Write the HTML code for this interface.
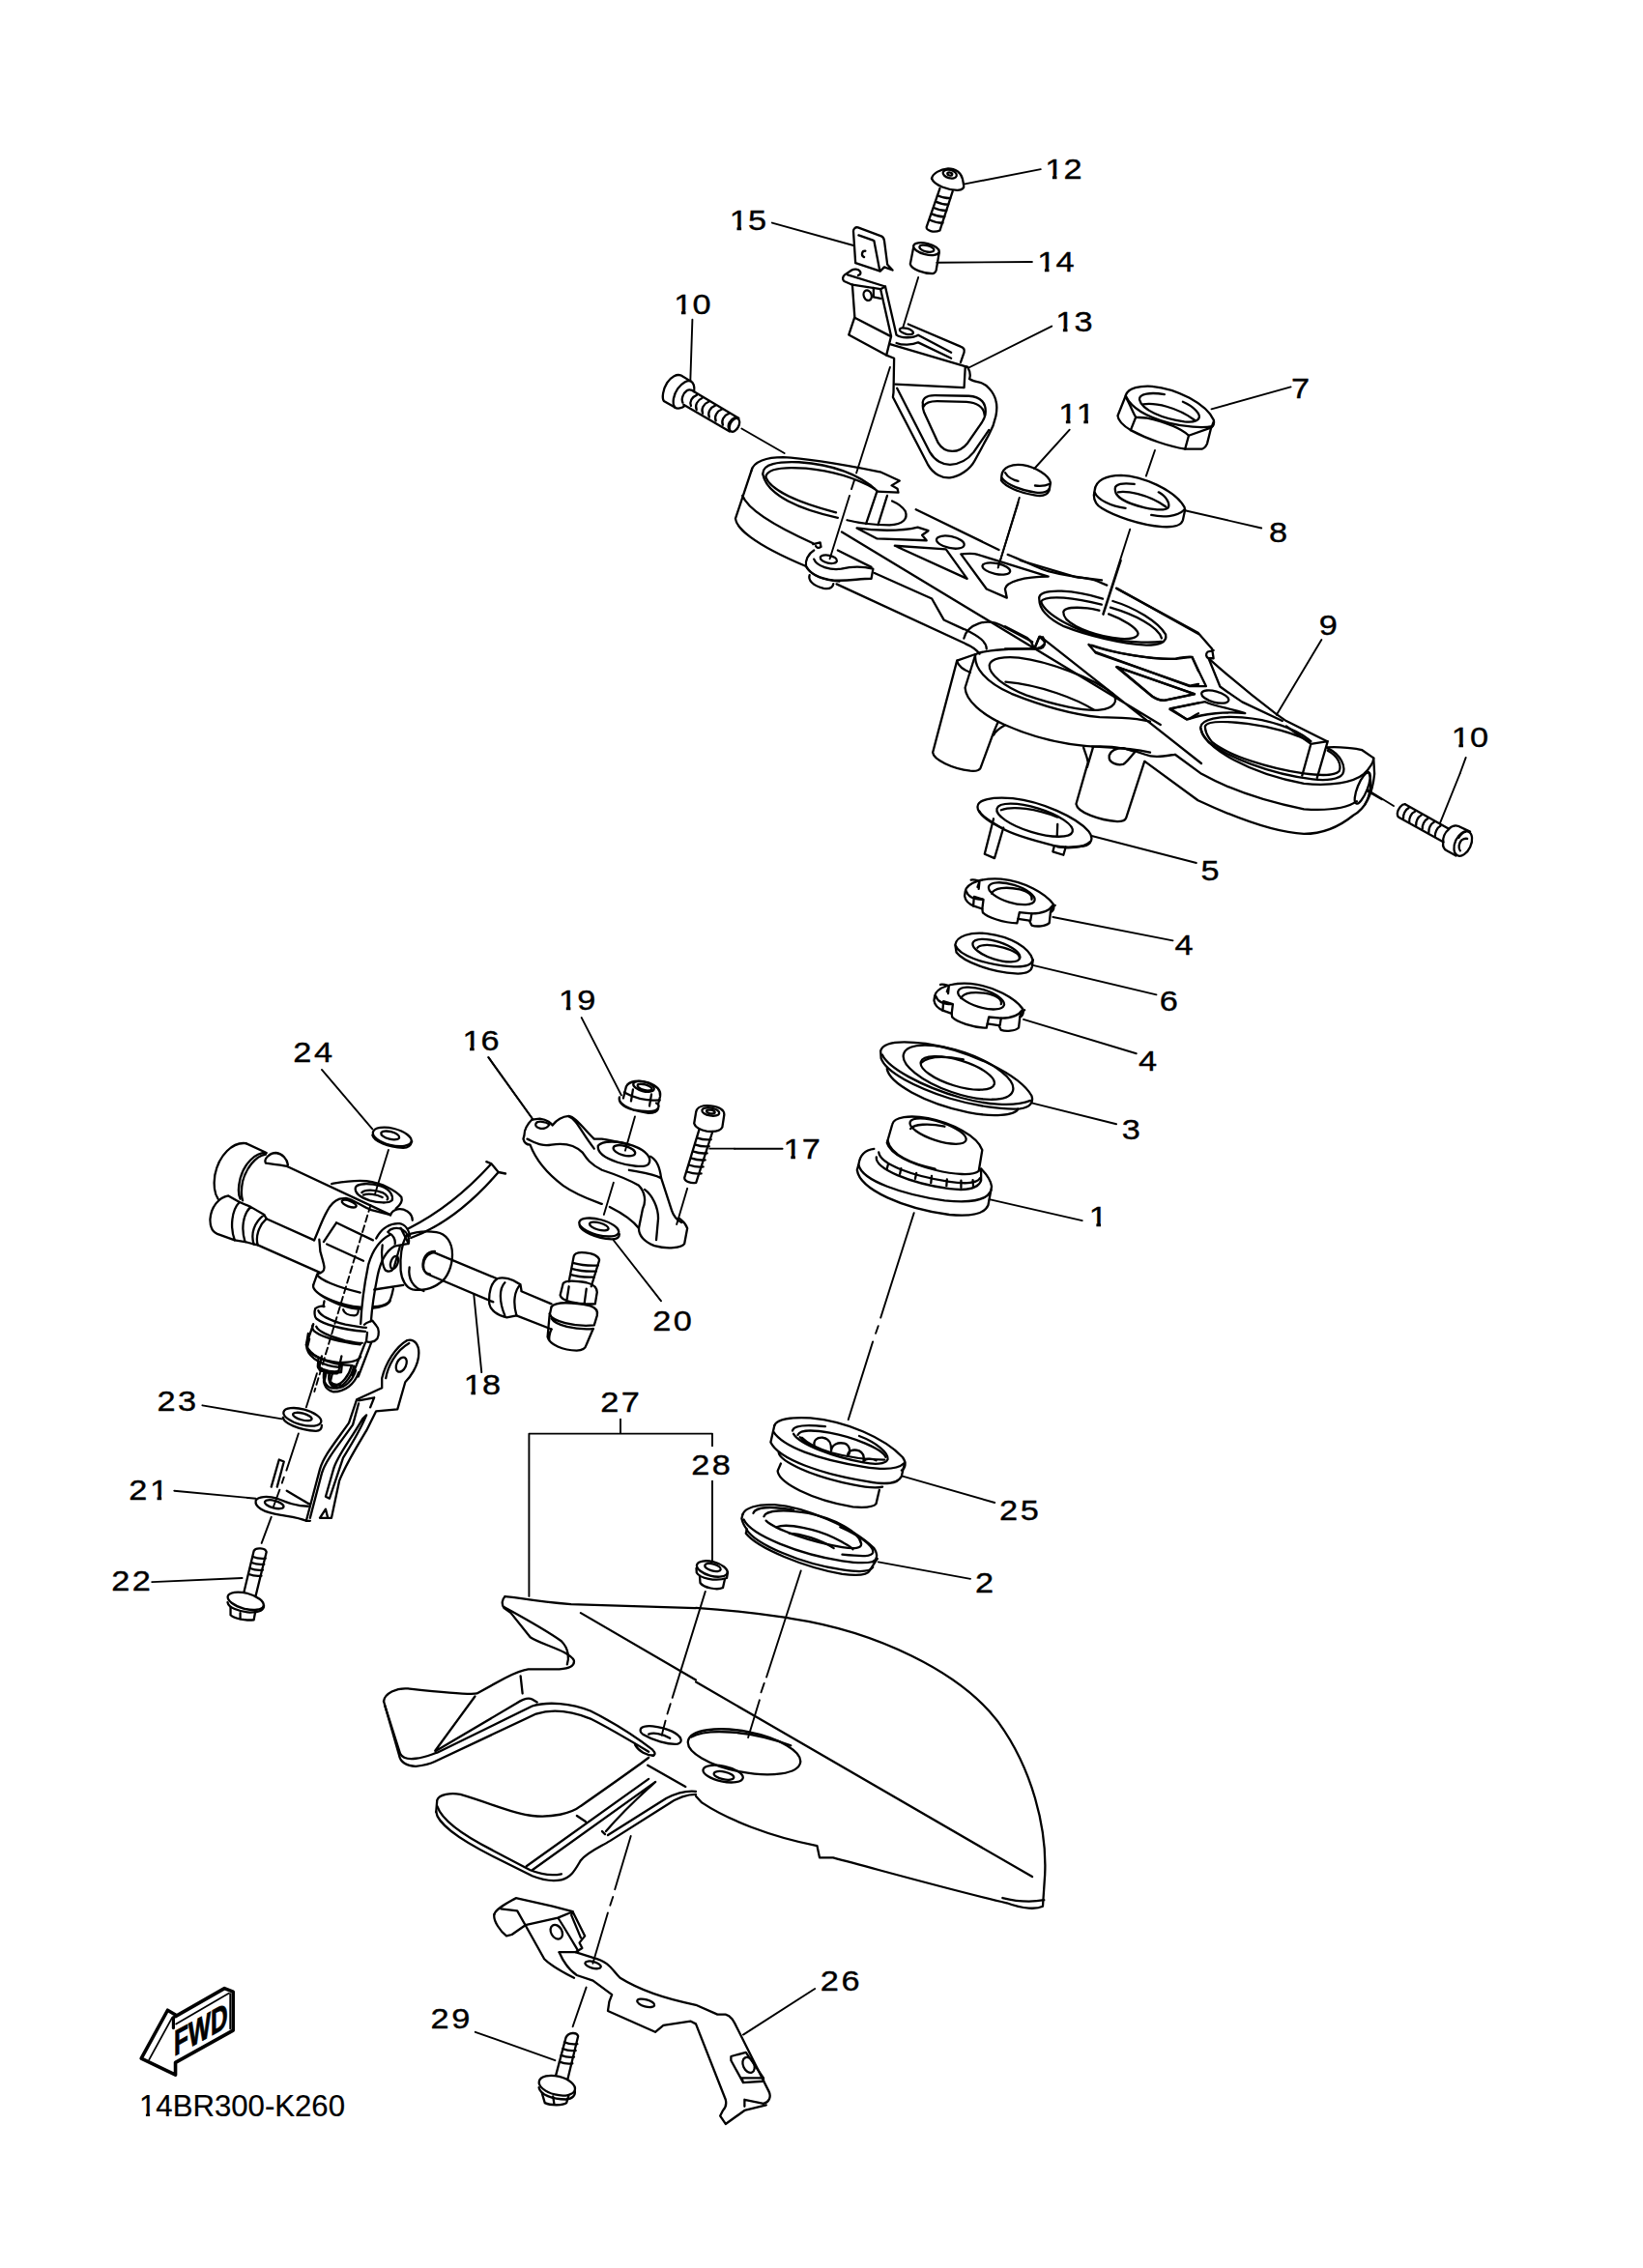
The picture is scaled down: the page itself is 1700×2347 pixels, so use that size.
<!DOCTYPE html>
<html><head><meta charset="utf-8">
<style>
html,body{margin:0;padding:0;background:#fff;}
body{width:1700px;height:2347px;overflow:hidden;}
svg{display:block;}
.d path,.d ellipse,.d line,.d polyline,.d polygon,.d circle{fill:none;stroke:#000;stroke-width:2.3;vector-effect:non-scaling-stroke;stroke-linecap:round;stroke-linejoin:round;}
.d .f{fill:#fff;}
.ld{stroke-width:1.9 !important;}
.dd{stroke-dasharray:38 7 4 7;}
text{font-family:"Liberation Sans",sans-serif;font-size:28.6px;fill:#000;stroke:#000;stroke-width:0.35px;}
</style></head><body>
<svg class="d" width="1700" height="2347" viewBox="0 0 1700 2347">
<text transform="translate(1081.2,185.2) scale(1.2,1)" letter-spacing="0.1">12</text>
<text transform="translate(1073.2,281.2) scale(1.2,1)" letter-spacing="0.1">14</text>
<text transform="translate(754.8,237.8) scale(1.2,1)" letter-spacing="0.1">15</text>
<text transform="translate(697.2,325.3) scale(1.2,1)" letter-spacing="0.1">10</text>
<text transform="translate(1092.2,342.8) scale(1.2,1)" letter-spacing="0.1">13</text>
<text transform="translate(1335.9,411.8) scale(1.2,1)" letter-spacing="2.1">7</text>
<text transform="translate(1095.2,437.8) scale(1.2,1)" letter-spacing="1.6">11</text>
<text transform="translate(1313.0,561.0) scale(1.2,1)" letter-spacing="2.1">8</text>
<text transform="translate(1364.8,656.8) scale(1.2,1)" letter-spacing="2.1">9</text>
<text transform="translate(1501.7,772.5) scale(1.2,1)" letter-spacing="0.1">10</text>
<text transform="translate(1242.4,910.9) scale(1.2,1)" letter-spacing="2.1">5</text>
<text transform="translate(1215.6,987.6) scale(1.2,1)" letter-spacing="2.1">4</text>
<text transform="translate(1199.8,1046.0) scale(1.2,1)" letter-spacing="2.1">6</text>
<text transform="translate(1177.9,1108.1) scale(1.2,1)" letter-spacing="2.1">4</text>
<text transform="translate(1160.8,1178.7) scale(1.2,1)" letter-spacing="2.1">3</text>
<text transform="translate(1126.7,1268.8) scale(1.2,1)" letter-spacing="2.1">1</text>
<text transform="translate(303.3,1098.8) scale(1.2,1)" letter-spacing="2.1">24</text>
<text transform="translate(478.4,1087.3) scale(1.2,1)" letter-spacing="0.1">16</text>
<text transform="translate(578.1,1045.1) scale(1.2,1)" letter-spacing="0.1">19</text>
<text transform="translate(479.7,1442.8) scale(1.2,1)" letter-spacing="0.1">18</text>
<text transform="translate(675.2,1376.8) scale(1.2,1)" letter-spacing="2.1">20</text>
<text transform="translate(162.4,1460.1) scale(1.2,1)" letter-spacing="2.1">23</text>
<text transform="translate(133.3,1551.5) scale(1.2,1)" letter-spacing="2.1">21</text>
<text transform="translate(115.2,1645.9) scale(1.2,1)" letter-spacing="2.1">22</text>
<text transform="translate(1034.1,1573.4) scale(1.2,1)" letter-spacing="2.1">25</text>
<text transform="translate(1008.9,1647.9) scale(1.2,1)" letter-spacing="2.1">2</text>
<text transform="translate(621.2,1460.8) scale(1.2,1)" letter-spacing="2.1">27</text>
<text transform="translate(715.2,1525.8) scale(1.2,1)" letter-spacing="2.1">28</text>
<text transform="translate(848.8,2060.2) scale(1.2,1)" letter-spacing="2.1">26</text>
<text transform="translate(445.6,2099.4) scale(1.2,1)" letter-spacing="2.1">29</text>
<text transform="translate(810.6,1198.6) scale(1.2,1)" letter-spacing="0.1">17</text>
<!--LABELS-->
<!-- F_A2: origin 670,140 s=4.694 : parts 12,15,14 -->
<g transform="translate(670,140) scale(0.21304)">
 <path d="M1380,210 C1385,185 1420,165 1460,162 C1495,162 1522,180 1530,212 L1535,238"/>
 <path d="M1380,210 C1395,245 1460,265 1505,267 C1530,267 1540,255 1535,238"/>
 <ellipse cx="1468" cy="188" rx="34" ry="20" transform="rotate(15 1468 188)"/>
 <ellipse cx="1468" cy="188" rx="12" ry="7" transform="rotate(15 1468 188)"/>
 <path d="M1420,258 L1355,445 C1352,462 1390,476 1420,462 L1482,272"/>
 <path d="M1408,292 q28,14 62,14 M1399,322 q28,14 62,14 M1390,352 q28,14 62,14 M1381,382 q28,14 62,14 M1372,412 q28,14 62,14"/>
 <path d="M1000,470 C998,455 1010,444 1022,448 L1135,490 C1145,494 1148,500 1150,512 L1165,628 L1190,655 L1150,640 L1130,660 L1010,620 Z"/>
 <path d="M1100,512 L1128,658"/>
 <path d="M1025,485 L1095,510"/>
 <path d="M1058,562 C1040,560 1036,585 1052,592"/>
 <ellipse cx="1354" cy="552" rx="64" ry="27" transform="rotate(14 1354 552)"/>
 <ellipse cx="1356" cy="550" rx="36" ry="15" transform="rotate(14 1356 550)"/>
 <path d="M1291,548 L1276,625 C1282,652 1345,672 1385,672 C1397,670 1400,662 1402,655 L1416,572"/>
 <path class="ld" d="M605,425 L1000,535"/>
 <path class="ld" d="M1315,690 L1240,935"/>
</g>
<!-- leaders native -->
<path class="ld" d="M997,190.6 L1076.8,175.1"/>
<path class="ld" d="M969.3,271.7 L1067.9,271"/>
<path class="ld" d="M1002.4,380.5 L1088.2,337.6"/>
<path class="ld" d="M716.4,330.7 L714.3,394.6"/>
<!-- F_10: origin 680,380 s=11.736 : bolt 10 top -->
<g transform="translate(680,380) scale(0.085208)">
 <path d="M390,160 L290,100 C240,80 170,110 120,190 C70,270 55,370 80,410 L215,488"/>
 <path d="M215,488 C175,440 200,330 250,260 C300,190 370,150 410,170 C440,190 455,240 448,295"/>
 <path d="M215,488 C240,510 305,500 335,470"/>
 <path d="M310,430 C290,390 310,320 360,285 C395,262 425,278 452,300 L990,620"/>
 <path d="M320,455 L880,780"/>
 <path d="M410,470 C390,420 420,360 480,338 M478,515 C455,465 485,400 545,375 M553,560 C530,510 560,445 625,420 M632,606 C610,556 640,490 705,465 M712,652 C690,602 720,536 785,511 M797,702 C775,652 805,586 870,561 M872,752 C850,702 880,636 945,611"/>
 <ellipse cx="938" cy="702" rx="52" ry="88" transform="rotate(28 938 702)"/>
 <path class="ld" d="M1025,745 L1545,1045"/>
</g>
<!-- F_13: origin 860,260 s=8.215 : part 13 -->
<g transform="translate(860,260) scale(0.121729)">
 <path d="M180,285 L110,255 C95,245 95,215 115,200 L175,160 C195,148 230,150 245,170 C255,185 250,200 230,205"/>
 <path d="M140,200 L460,300 L420,322 L180,285"/>
 <path d="M360,312 L360,390 L420,402"/>
 <ellipse cx="310" cy="375" rx="33" ry="44" transform="rotate(-20 310 375)"/>
 <path d="M180,285 L200,560 L150,710 L465,882 L535,910 L530,1200 L525,1240 L820,1810 C870,1900 950,1930 1010,1925 C1090,1915 1180,1855 1220,1780 L1340,1560 C1400,1450 1420,1340 1400,1270 C1380,1190 1320,1130 1260,1115 C1210,1105 1190,1095 1175,1085 C1185,1060 1180,1020 1160,985 L500,790"/>
 <path d="M200,565 L500,720"/>
 <path d="M420,322 L510,722 L470,882"/>
 <path d="M460,300 L555,712 C600,745 700,735 740,712 L1020,860"/>
 <ellipse cx="640" cy="680" rx="60" ry="24" transform="rotate(15 640 680)"/>
 <path d="M655,620 L1100,810 C1130,820 1135,840 1130,860 L1100,945"/>
 <path d="M555,780 C600,800 690,800 740,775 L1020,910"/>
 <path d="M545,1130 L1130,1160 L1140,980 L1160,985"/>
 <path d="M560,1165 L840,1710 C880,1780 950,1815 1010,1815 C1100,1810 1170,1760 1210,1710 L1340,1520"/>
 <path d="M780,1300 C770,1260 800,1225 880,1225 L1170,1230 C1270,1235 1325,1290 1310,1390 C1300,1440 1270,1470 1250,1500 L1160,1630 C1120,1680 1080,1700 1030,1700 C980,1700 940,1680 910,1630 L790,1370 C780,1340 775,1320 780,1300 Z"/>
 <path d="M785,1320 C800,1290 840,1275 900,1275 L1150,1280 C1230,1285 1300,1320 1305,1400"/>
 
</g>

<!-- F_E: origin 880,820 s=4.1075 : parts 5,4,6,4,3,1 -->
<g transform="translate(880,820) scale(0.243457)">
 <!-- part 5 -->
 <path d="M540,62 C540,30 600,18 690,25 C810,38 960,105 1012,165 C1035,192 1025,222 990,228 C940,234 890,232 865,226 C760,200 680,175 640,150 C580,120 540,90 540,62 Z"/>
 <path d="M548,80 C560,105 600,125 640,150 M880,232 C920,238 990,238 1018,210"/>
 <ellipse cx="783" cy="118" rx="168" ry="52" transform="rotate(17 783 118)"/>
 <path d="M640,75 C690,55 790,70 880,105"/>
 <path d="M608,112 L570,262 L612,280 L650,150"/>
 <path d="M866,228 L860,252 L905,266 L915,232"/>
 <path d="M880,135 L878,186"/>
 <!-- part 4 (a) -->
 <g id="nut4">
 <path d="M488,420 C495,385 560,362 640,368 C740,378 830,430 862,475 C868,495 860,505 850,510 L845,555 C830,570 790,572 770,565 L760,545 L712,538 L708,556 C650,555 580,530 562,510 L560,495 L525,483 C505,475 488,462 485,440 Z"/>
 <path d="M512,372 C520,370 540,372 548,380 L545,410 M548,380 L540,402"/>
 <path d="M560,495 L565,455 L525,443 L522,483"/>
 <path d="M712,538 L718,510 L770,515 L765,545"/>
 <path d="M850,510 L855,488 L870,480"/>
 <path d="M492,420 C500,445 530,455 560,455 M770,515 C800,515 840,512 860,480"/>
 <ellipse cx="685" cy="430" rx="102" ry="38" transform="rotate(17 685 430)"/>
 <path d="M600,430 C610,405 660,400 720,412 C760,422 775,440 770,455"/>
 </g>
 <!-- part 6 -->
 <path d="M445,648 C450,610 510,592 580,600 C680,612 760,660 775,712 L772,740 C768,765 740,772 700,770 C600,765 480,720 450,680 Z"/>
 <path d="M447,652 C460,690 560,730 680,740 C740,745 770,735 775,712"/>
 <ellipse cx="620" cy="672" rx="105" ry="38" transform="rotate(18 620 672)"/>
 <path d="M540,660 C550,645 600,645 650,660 C700,675 720,690 718,705"/>
 <!-- part 4 (b) -->
 <use href="#nut4" transform="translate(-130,445)"/>
 <!-- part 3 -->
 <path d="M128,1098 C140,1060 220,1055 320,1068 C500,1095 720,1200 770,1290 C780,1320 760,1340 720,1345 C640,1350 520,1330 420,1300 C280,1255 150,1190 130,1130 Z"/>
 <path d="M155,1175 C165,1235 310,1320 500,1360 C600,1380 700,1375 712,1345"/>
 <path d="M135,1115 C160,1170 300,1250 470,1298 C570,1325 690,1340 765,1310"/>
 <ellipse cx="458" cy="1190" rx="245" ry="88" transform="rotate(19 458 1190)"/>
 <ellipse cx="455" cy="1193" rx="163" ry="55" transform="rotate(17 455 1193)"/>
 <path d="M300,1150 C330,1120 400,1120 480,1135"/>
 <!-- part 1 -->
 <path d="M100,1515 C60,1520 40,1540 35,1580 L28,1605 C40,1690 230,1770 420,1795 C520,1805 570,1790 585,1755 L600,1675 C595,1640 570,1615 555,1600"/>
 <path d="M35,1585 C50,1650 220,1710 400,1735 C500,1745 580,1740 598,1690"/>
 <path d="M110,1550 C105,1600 250,1660 420,1685 C500,1695 545,1680 555,1650 L555,1600"/>
 <path d="M120,1530 C125,1580 260,1630 420,1655 C490,1665 540,1660 550,1640"/>
 <path d="M160,1580 L155,1600 M215,1598 L210,1622 M280,1618 L275,1642 M345,1630 L342,1660 M410,1645 L408,1672 M470,1650 L470,1680 M520,1648 L522,1678"/>
 <path d="M178,1410 C185,1380 250,1370 330,1385 C430,1405 540,1460 560,1520 L545,1610 C520,1630 440,1625 360,1605 C260,1580 170,1540 155,1490 Z"/>
 <path d="M158,1480 C170,1540 260,1580 360,1600"/>
 <ellipse cx="372" cy="1440" rx="125" ry="40" transform="rotate(18 372 1440)"/>
 <path d="M255,1430 C270,1410 330,1405 400,1420"/>
 <!-- leaders -->
 <path class="ld" d="M1025,185 L1470,300"/>
 <path class="ld" d="M860,530 L1370,630"/>
 <path class="ld" d="M775,735 L1300,860"/>
 <path class="ld" d="M735,965 L1215,1110"/>
 <path class="ld" d="M770,1320 L1130,1410"/>
 <path class="ld" d="M590,1730 L985,1820"/>
</g>

<!-- F_78: origin 1020,380 s=6.572 : parts 7,8,11 -->
<g transform="translate(1020,380) scale(0.152161)">
 <!-- 11 -->
 <path d="M108,735 C115,680 180,655 250,665 C340,680 430,735 440,785 L432,835 C420,870 380,880 330,870 C230,855 130,810 105,770 Z"/>
 <path d="M108,752 C140,800 250,840 340,852 C390,858 420,848 432,825"/>
 <path d="M132,718 C150,748 190,768 220,775 M335,805 C370,810 410,805 435,793"/>
 <!-- 7 -->
 <path d="M952,190 C970,140 1050,125 1130,130 C1300,145 1500,250 1550,360 C1558,395 1540,405 1530,410"/>
 <path d="M952,195 C990,280 1100,340 1250,380 C1350,405 1470,415 1540,402"/>
 <path d="M1045,220 C1040,180 1120,168 1215,185 M1340,235 C1420,270 1460,320 1450,345 C1440,370 1400,375 1350,370 C1200,350 1060,290 1045,220"/>
 <path d="M1070,252 C1150,240 1300,270 1420,360"/>
 <path d="M952,192 L897,330 C900,370 940,400 985,428 C1100,490 1250,540 1355,556 L1470,556 C1492,550 1500,532 1505,520 L1530,420 L1550,370"/>
 <path d="M952,205 C980,250 1000,310 1020,340 L1090,345 C1200,370 1320,410 1380,465 L1530,412"/>
 <path d="M1020,340 L985,428 M1380,465 L1355,556"/>
 <!-- 8 -->
 <path d="M740,840 C745,770 820,735 920,735 C1060,740 1280,830 1350,950 L1355,970 L1340,1040 C1330,1075 1280,1090 1200,1085 C1050,1075 870,1010 790,960 C750,935 735,900 735,870 Z"/>
 <path d="M740,850 C760,900 850,948 950,958 M1125,1005 C1200,1022 1300,1020 1352,968"/>
 <path d="M880,835 C870,790 940,785 1010,795 M1175,850 C1230,880 1255,930 1240,955 C1220,975 1150,970 1080,955 C950,925 880,880 880,835"/>
 <path d="M900,850 C950,840 1100,860 1225,950"/>
 <!-- leaders -->
 <path class="ld" d="M1150,565 L1090,740"/>
 <path class="ld" d="M570,425 L330,690"/>
</g>
<path class="ld" d="M1253.5,423.3 L1335.6,400.4"/>
<path class="ld" d="M1226,528.2 L1305.2,546.5"/>
<path class="ld" d="M1169.2,547.7 L1141.2,635.4"/>
<path class="ld" d="M1054.8,514.9 L1032.9,586.7"/>

<!-- T9a: origin 750,460 s=5.4767 -->
<g transform="translate(750,460) scale(0.182591)">
 <path d="M150,150 C160,95 240,72 330,72 C500,80 700,120 880,155 L990,205 L945,232 L978,250 L983,272 L862,266"/>
 <path d="M150,150 L60,420 C65,470 150,560 460,690"/>
 <path d="M100,290 C130,370 300,470 500,560"/>
 <path d="M215,165 C215,110 300,95 420,100 C560,110 740,150 862,262"/>
 <path d="M232,182 C240,138 330,125 460,135 C600,148 740,190 848,250"/>
 <path d="M215,168 C240,290 430,370 640,415"/>
 <path d="M232,186 C260,260 420,330 630,385"/>
 <path d="M862,266 L800,450 M920,290 L868,455"/>
 <!-- pin boss -->
 <path d="M500,565 L540,555 L545,580 C530,590 520,585 515,575"/>
 <path d="M505,600 C470,620 455,660 460,690 C480,730 540,760 620,770 C700,775 760,760 830,760 L840,705 C780,690 720,690 660,705 C600,715 520,690 505,650"/>
 <path d="M460,690 C490,740 560,770 650,775 M480,740 C470,770 500,800 560,815 C590,820 610,815 615,790"/>
 <ellipse cx="588" cy="650" rx="48" ry="22" transform="rotate(12 588 650)"/>
 <path d="M640,600 L830,695"/>
 
</g>
<!-- T9b: origin 840,520 s=5.4767 -->
<g transform="translate(840,520) scale(0.182591)">
 <path d="M200,100 C260,115 350,128 440,128 C520,125 545,90 530,50 C515,25 485,5 455,-8"/>
 
 <path d="M355,400 L680,545 L748,665 L862,718"/>
 <path d="M140,462 L870,800 C905,815 935,835 950,858"/>
 <path d="M590,40 L1060,268 M1110,295 C1200,330 1300,380 1340,390 C1450,420 1550,430 1643,440"/>
 <path d="M255,145 C350,160 500,165 600,140 L660,160 L625,185 L650,215 L370,205 Z"/>
 <ellipse cx="785" cy="225" rx="80" ry="33" transform="rotate(12 785 225)"/>
 <path d="M470,245 L760,265 L880,432 Z"/>
 <path d="M845,292 C880,290 915,285 940,295 L1340,420 C1200,420 1100,450 1095,490 L1105,540 L990,490 Z"/>
 <ellipse cx="1045" cy="375" rx="80" ry="30" transform="rotate(12 1045 375)"/>
 <path d="M862,770 C880,690 990,650 1080,700 L1250,790 M870,720 C950,760 990,790 990,830"/>
 <path d="M1260,830 L1290,760 L1320,790 C1320,820 1290,830 1250,828"/>
 <path class="ld" d="M1170,0 L1055,370"/>
</g>
<!-- T9c: origin 1130,600 s=5.4767 -->
<g transform="translate(1130,600) scale(0.182591)">
 <path d="M140,50 L600,300 L680,392 L688,445 M688,400 L655,408 C642,420 645,438 660,445 L688,445"/>
 <path d="M660,445 L725,605 C760,630 800,660 850,692 L1078,800"/>
 <path d="M668,452 C800,570 950,690 1045,762 L1100,800 L1330,915"/>
 <path d="M615,835 C620,790 720,770 850,780 C1000,792 1150,840 1240,915 M1335,955 C1410,990 1440,1060 1420,1100 C1400,1130 1330,1140 1250,1130 C1000,1100 760,1000 660,920 C630,890 615,860 615,835"/>
 <path d="M640,830 C650,800 750,800 880,815 C1000,830 1150,870 1230,915 M1335,968 C1395,1000 1415,1050 1400,1085 C1380,1108 1300,1112 1200,1098 C1000,1068 780,1000 680,920 C655,890 640,860 640,830"/>
 <path d="M1100,830 L1240,930 L1335,915 M1240,930 L1190,1110 M1335,915 L1275,1122"/>
 <path d="M1330,950 C1400,945 1500,955 1530,965 L1595,1010 L1600,1100 C1590,1200 1560,1290 1480,1335 C1400,1400 1300,1440 1200,1440 C1000,1430 750,1320 600,1250 L300,1030"/>
 <path d="M615,840 C640,960 900,1100 1200,1155 C1350,1170 1480,1150 1540,1100 C1580,1060 1595,1030 1595,1010"/>
 <path d="M0,945 C100,940 200,950 300,990 C350,1010 400,1000 470,990 L620,1100 C800,1200 1000,1260 1200,1300 C1350,1310 1450,1290 1500,1255"/>
 <ellipse cx="1532" cy="1180" rx="28" ry="95" transform="rotate(22 1532 1180)"/>
 <path d="M1562,1085 C1590,1120 1580,1220 1545,1275"/>
 <path class="ld" d="M1300,340 L1045,765 M1555,1195 L1643,1245"/>
</g>
<!-- T9d: origin 1130,660 s=9.665 -->
<g transform="translate(1130,660) scale(0.103466)">
 <path d="M30,140 L975,485 L1140,485 L1000,195 C970,190 930,200 850,210 C600,220 250,160 0,75"/>
 <path d="M250,290 L1025,565 L730,625 C680,628 640,612 610,590 Z"/>
 <ellipse cx="1230" cy="590" rx="140" ry="55" transform="rotate(15 1230 590)"/>
 <path d="M785,710 L1130,640 C1200,680 1400,710 1530,755 C1350,735 1100,760 980,810 L945,815 Z"/>
 
 
</g>

<!-- T9e: origin 1040,580 s=8.215 -->
<g transform="translate(1040,580) scale(0.121729)">
 <path d="M130,0 L600,140 C650,150 720,150 780,175 L865,210 M945,235 L1643,625"/>
 <path d="M290,330 C280,280 350,255 480,260 C600,265 750,300 830,325 M915,345 C1100,400 1300,520 1365,630 C1380,700 1300,720 1200,720 C1000,710 700,640 500,560 C380,500 290,420 290,330"/>
 <path d="M305,350 C320,320 400,312 500,318 C620,328 740,355 820,375 M895,400 C1100,460 1300,560 1330,660 M305,350 C340,460 600,600 850,660 C1000,690 1200,705 1330,690"/>
 <path d="M495,440 C500,400 600,395 700,405 C750,410 780,420 800,425 M880,455 C1000,500 1120,570 1130,620 C1130,660 1050,670 980,665 C800,650 600,580 520,500 C500,475 495,455 495,440"/>
 
 <path d="M320,650 C340,680 345,720 320,740 C300,752 270,752 250,750 M250,750 L290,650"/>
 <path d="M0,560 L190,660 C220,680 240,720 240,750 L0,750"/>
 <path d="M710,715 C900,790 1300,850 1450,835 C1500,825 1550,815 1590,820 L1643,940 M710,715 L770,785 L1570,1065 L1643,1050"/>
 <path d="M945,905 L1610,1135 L1350,1190 C1300,1190 1270,1170 1240,1150 Z"/>
 <path d="M1400,1260 L1643,1210 M1400,1265 L1540,1350 C1560,1355 1600,1320 1643,1300"/>
 <path class="ld" d="M985,0 L835,460"/>
</g>

<!-- T9f: origin 940,660 s=6.572 -->
<g transform="translate(940,660) scale(0.152161)">
 <path d="M330,155 L460,110 C520,85 650,75 850,75 C880,75 900,70 915,50"/>
 <path d="M330,160 C340,190 380,220 420,235"/>
 <path d="M455,115 C445,200 520,300 700,380 C900,460 1100,520 1300,540 L1450,545 C1550,550 1600,560 1643,570"/>
 <path d="M455,115 L385,340 C390,430 500,520 650,590 C850,680 1100,740 1350,745 C1500,750 1600,770 1643,780"/>
 <path d="M550,185 C560,140 650,125 750,135 C950,160 1250,270 1390,380 C1430,430 1400,480 1300,490 C1200,500 1000,460 800,390 C650,330 545,250 550,185 Z"/>
 <path d="M660,300 C900,320 1150,420 1260,490"/>
 <path d="M330,155 L165,780 C170,830 300,890 420,905 C470,910 485,895 490,885 L580,640 L610,570 M655,595 C610,620 590,640 580,660"/>
 <path d="M1190,745 C1200,780 1220,820 1220,850 L1140,1130 C1150,1190 1300,1240 1420,1250 C1460,1250 1475,1240 1480,1225 L1605,840 M1255,745 L1215,880"/>
 <path d="M1365,800 C1380,760 1420,750 1460,750 L1540,775 C1520,800 1480,850 1460,860 C1420,870 1370,850 1365,820 Z"/>
</g>
<!-- FDa: origin 210,1170 s=6.085 : damper body -->
<g transform="translate(210,1170) scale(0.164339)">
 <path d="M270,80 C190,70 100,150 75,280 C65,350 75,400 95,430"/>
 <path d="M270,80 L400,140 C330,135 260,210 235,300 C220,360 225,410 235,430"/>
 <path d="M395,150 C330,160 270,240 250,320 C240,370 240,410 250,440"/>
 <path d="M395,205 C380,180 420,140 460,140 C500,145 530,180 535,215 L530,225 C480,215 430,210 395,205 Z"/>
 <path d="M530,225 L1180,530"/>
 <path d="M810,335 C870,325 950,310 1030,318 C1130,330 1220,380 1250,420 C1260,450 1240,470 1215,490"/>
 <path d="M960,360 C970,330 1050,330 1120,350 C1180,370 1200,410 1190,440 C1170,460 1100,455 1050,440 C990,420 955,390 960,360 Z"/>
 <path d="M1000,390 C1020,370 1080,370 1130,390 C1160,405 1170,425 1160,435 M1010,405 C1040,395 1090,400 1130,420"/>
 <path d="M160,410 C100,420 50,480 45,560 C45,610 65,640 90,650 L200,690 C170,610 180,500 230,450 L160,410"/>
 <path d="M230,450 L300,480 C250,530 240,620 265,700 L200,690 M300,480 L385,530 C320,580 300,650 320,715 L265,700"/>
 <path d="M385,530 L400,555 C350,600 330,670 345,720 L320,715"/>
 <path d="M400,555 L700,690 M345,720 L740,895"/>
 <path d="M700,690 C720,650 750,560 780,510 C800,470 830,440 860,430 L900,425 C950,435 990,470 1060,500 L1180,530"/>
 <path d="M840,580 L1070,690 M780,715 L1010,820 M840,580 L760,700"/>
 <ellipse cx="920" cy="460" rx="48" ry="18" transform="rotate(20 920 460)"/>
 <path d="M1130,720 C1120,780 1130,860 1150,880 C1170,890 1190,885 1200,870 L1240,730"/>
 <ellipse cx="1205" cy="830" rx="22" ry="42" transform="rotate(20 1205 830)"/>
 <path d="M1280,660 C1330,640 1400,630 1470,640 C1530,650 1570,700 1570,780 C1570,850 1540,930 1490,960 C1440,1000 1370,1010 1320,1000 C1280,990 1250,940 1245,880 C1240,800 1250,720 1280,660 Z"/>
 <path d="M1300,860 C1290,930 1320,990 1390,1010"/>
 <path d="M1460,760 C1410,760 1380,800 1385,860 C1390,890 1410,900 1430,905"/>
</g>
<!-- FD: origin 200,1020 s=3.912 : washer 24, lower body -->
<g transform="translate(200,1020) scale(0.255624)">
 <ellipse cx="805" cy="612" rx="80" ry="34" transform="rotate(14 805 612)"/>
 <ellipse cx="797" cy="606" rx="38" ry="15" transform="rotate(14 797 606)"/>
 <path d="M725,605 C730,632 790,652 850,657 C870,657 880,650 885,630"/>
 <path class="ld" d="M520,340 L725,580 M790,665 L735,845"/>
 <path class="ld" d="M1195,290 L1370,535"/>
 <path d="M470,1430 L460,1470 C470,1510 530,1540 590,1545 L600,1530 M520,1500 L510,1545 C530,1560 570,1565 590,1560 M590,1545 L600,1500"/>
 <path d="M530,1560 C520,1600 540,1630 570,1630 C600,1630 640,1590 650,1540 M550,1570 C545,1600 560,1615 580,1615 C600,1615 630,1580 640,1540"/>
</g>
<!-- FR: origin 430,1030 s=4.979 : 16,19,17,20, rod end -->
<g transform="translate(430,1030) scale(0.200843)">
 <path d="M600,640 L640,635 C680,640 700,660 705,670 C720,650 750,625 790,622 C820,625 860,680 920,740 L960,740 C1000,745 1060,760 1100,770"/>
 <path d="M940,775 C960,750 1040,745 1120,775 C1190,800 1220,840 1200,870 C1180,890 1100,880 1040,860 C980,840 935,810 940,775 Z"/>
 <ellipse cx="1075" cy="800" rx="58" ry="24" transform="rotate(15 1075 800)"/>
 <path d="M600,640 C580,660 560,690 560,720 L555,740 C560,760 575,770 590,770 C620,850 680,920 760,980 C830,1030 920,1060 960,1075 M1000,1090 C1060,1120 1120,1160 1150,1200 C1150,1240 1180,1270 1230,1290 C1300,1310 1370,1300 1385,1280 L1400,1200 C1390,1170 1370,1160 1360,1150"/>
 <path d="M575,740 C620,760 650,780 700,770 C760,760 820,770 860,810 C880,840 900,870 960,900 C1020,920 1100,950 1150,980 C1180,1010 1190,1060 1170,1100 L1150,1200"/>
 <path d="M1210,830 C1250,850 1260,900 1265,940 L1320,1110 C1330,1140 1350,1160 1370,1170 M1180,1000 C1220,1030 1250,1090 1250,1150 L1240,1260 M1100,900 C1150,910 1230,920 1260,940"/>
 <path d="M620,660 C630,645 670,650 690,665 C680,680 660,690 640,685 C620,680 615,670 620,660"/>
 <path d="M790,625 C830,640 850,700 920,790"/>
 <path d="M1085,470 C1100,440 1150,435 1200,450 C1240,465 1265,490 1260,520 L1250,560 M1085,470 L1070,530"/>
 <path d="M1050,525 C1045,545 1060,575 1120,590 C1180,600 1240,605 1250,580 C1255,570 1250,560 1240,555 M1050,540 C1060,570 1120,595 1200,607 C1230,607 1245,600 1250,585"/>
 <ellipse cx="1175" cy="470" rx="55" ry="24" transform="rotate(15 1175 470)"/>
 <ellipse cx="1180" cy="474" rx="38" ry="14" transform="rotate(15 1180 474)"/>
 <path d="M1120,485 L1110,545 M1215,510 L1205,570 M1075,500 C1120,525 1180,545 1258,540"/>
 <path d="M1445,600 C1450,575 1480,565 1520,570 C1560,575 1590,590 1590,615 L1580,680 C1570,700 1540,705 1500,700 C1470,695 1440,680 1435,660 Z"/>
 <ellipse cx="1520" cy="600" rx="45" ry="20" transform="rotate(10 1520 600)"/>
 <ellipse cx="1520" cy="600" rx="22" ry="9" transform="rotate(10 1520 600)"/>
 <path d="M1460,695 L1385,940 C1385,960 1420,970 1445,965 L1530,702"/>
 <path d="M1452,735 q35,12 70,8 M1442,770 q35,12 70,8 M1432,805 q35,12 70,8 M1422,840 q35,12 70,8 M1412,875 q35,12 70,8 M1402,910 q35,12 70,8"/>
 <path class="ld" d="M1515,790 L1643,790 M1400,995 L1345,1180"/>
 <ellipse cx="945" cy="1195" rx="105" ry="40" transform="rotate(15 945 1195)"/>
 <ellipse cx="945" cy="1190" rx="50" ry="18" transform="rotate(15 945 1190)"/>
 <path d="M845,1185 C850,1215 930,1252 1010,1257 C1040,1257 1050,1245 1050,1230"/>
 <path class="ld" d="M1020,1262 L1265,1575 M1020,965 L970,1130 M375,320 L605,640 M855,115 L1060,515 M1130,625 L1080,800"/>
 <path d="M95,1325 C60,1330 40,1360 40,1390 C40,1420 55,1435 70,1440 L400,1580 M95,1325 L420,1460"/>
 <path d="M420,1460 C390,1480 375,1530 380,1590 C385,1620 420,1650 470,1660 L520,1650 M420,1460 C450,1450 500,1460 540,1490 L545,1520 M460,1480 C430,1510 430,1580 460,1650 M540,1490 C510,1520 500,1580 520,1650"/>
 <path d="M545,1525 L700,1590 M520,1650 L700,1720"/>
 <path d="M700,1605 C720,1580 800,1580 900,1600 C930,1610 940,1630 935,1650 L920,1700 M690,1640 C700,1680 820,1710 920,1700 M700,1665 C720,1700 820,1725 915,1718"/>
 <path d="M700,1605 L690,1650 L680,1760 C690,1800 760,1830 830,1830 C860,1830 875,1820 880,1800 L915,1718 M700,1720 C690,1740 685,1770 690,1780"/>
 <path d="M760,1485 C770,1470 820,1470 880,1480 C920,1490 935,1510 935,1530 L925,1590 M760,1485 L745,1545 C750,1575 830,1595 925,1590 M790,1500 L780,1565 M880,1512 L870,1585"/>
 <path d="M815,1345 C820,1325 850,1320 900,1330 C940,1340 950,1360 945,1370 L905,1500 M815,1345 L790,1475"/>
 <path d="M815,1380 q50,15 125,12 M808,1410 q50,15 122,12 M800,1440 q50,15 120,12"/>
 <path class="ld" d="M300,1540 L340,1942"/>
</g>
<!-- FL: origin 110,1380 s=4.979 : 23, 21, 22 -->
<g transform="translate(110,1380) scale(0.200843)">
 <ellipse cx="1010" cy="430" rx="100" ry="40" transform="rotate(15 1010 430)"/>
 <ellipse cx="1010" cy="428" rx="50" ry="17" transform="rotate(15 1010 428)"/>
 <path d="M910,432 C915,462 990,497 1080,502 C1100,502 1110,492 1110,472"/>
 <path class="ld" d="M495,370 L905,440 M1085,205 L1030,380 M350,810 L770,850 M235,1280 L700,1260"/>
 <path class="ld" d="M990,515 L928,705 M915,740 L905,770 M893,805 L860,895 M850,945 L800,1080"/>
 <path d="M770,862 C765,890 800,920 900,935 C960,945 1000,950 1030,965 L1050,965 M770,860 C780,840 830,835 880,850 C930,870 980,890 1040,890"/>
 <ellipse cx="865" cy="880" rx="50" ry="19" transform="rotate(15 865 880)"/>
 <path d="M1030,965 L1100,700 C1120,630 1180,560 1250,460 L1290,340 L1420,280 L1420,230 C1440,150 1490,70 1550,35 C1590,25 1610,60 1610,100 C1610,170 1560,230 1540,250 L1500,390 L1390,400 L1340,500 C1280,600 1230,680 1200,760 L1160,950 L1100,950 L1130,905 L1140,945"/>
 <path d="M1050,950 L1110,720 C1130,650 1200,570 1270,470 L1300,360 M1300,345 L1380,330 L1360,380"/>
 <path d="M1130,840 L1170,700 C1190,630 1250,560 1320,440 L1340,420 C1320,470 1270,560 1220,640 L1150,850 Z"/>
 <ellipse cx="1520" cy="160" rx="24" ry="40" transform="rotate(25 1520 160)"/>
 <path d="M1440,230 C1450,170 1490,90 1560,50"/>
 <path d="M850,790 L890,650 L915,660 L880,790 M930,810 C980,840 1030,870 1050,880"/>
 <path d="M625,1385 C630,1412 680,1432 740,1437 C790,1437 812,1422 812,1402"/>
 <path d="M640,1410 L640,1450 C660,1470 720,1480 760,1475 L770,1420 M690,1440 L690,1472"/>
 <path d="M700,1370 L760,1120 C770,1100 820,1105 825,1125 L765,1370"/>
 <ellipse class="f" cx="718" cy="1378" rx="95" ry="40" transform="rotate(15 718 1378)"/>
 <path d="M755,1150 q30,12 65,8 M748,1180 q30,12 65,8 M741,1210 q30,12 65,8 M734,1240 q30,12 65,8"/>
 <path d="M1040,0 L1030,60 C1050,110 1100,140 1200,150 C1260,150 1300,140 1310,120 M1090,140 L1100,190 C1130,200 1180,205 1210,200 L1215,150"/>
 <path d="M1130,200 C1110,240 1120,290 1170,300 C1230,300 1280,260 1300,200 M1150,210 C1140,250 1160,280 1190,280 C1230,280 1270,240 1285,190"/>
</g>

<!-- FB: origin 740,1440 s=4.564 : 25, 2 -->
<g transform="translate(740,1440) scale(0.219106)">
 <path d="M280,160 C290,130 360,120 450,125 C620,140 800,220 885,310 C905,335 898,365 880,372"/>
 <path d="M280,160 L262,240 C300,320 500,390 720,425 C800,440 860,440 880,400 L895,335"/>
 <path d="M275,190 C320,260 480,320 700,355 C790,370 860,370 890,340"/>
 <path d="M300,290 C310,330 450,400 650,440 C720,455 770,455 790,450"/>
 <path d="M310,340 L295,375 C300,430 450,510 650,545 C720,550 750,545 760,530 L775,465"/>
 <path d="M365,185 C370,160 430,155 520,165 M680,210 C760,240 820,290 815,320 C805,345 750,345 700,335 C560,310 400,250 370,200"/>
 <path d="M390,205 C400,182 460,180 540,195 C650,215 790,270 805,310"/>
 <path d="M400,215 C420,240 440,250 470,262 M470,262 C460,230 480,215 510,218 C540,222 550,250 548,280 M548,280 C550,250 580,238 610,245 C640,255 640,290 625,305 M625,305 C625,280 650,270 680,280 C700,290 705,310 700,330 M700,330 C710,315 740,315 760,325"/>
 <path d="M410,218 C460,270 600,320 800,322"/>
 <path class="ld" d="M885,400 L1320,525"/>
 <path d="M130,580 C140,550 200,530 280,535 C420,545 650,640 750,740 C770,770 765,795 745,805"/>
 <path d="M130,580 L125,600 C130,620 140,640 150,650 L145,670 C200,740 420,830 600,862 C680,872 720,865 730,845 L765,790"/>
 <path d="M135,605 C170,680 400,770 600,800 C700,815 750,810 765,790"/>
 <path d="M148,652 C190,720 400,812 600,842 C690,855 735,850 745,830"/>
 <path d="M180,575 C190,545 260,540 370,560 M590,640 C680,680 750,730 745,760 C740,780 700,780 600,770"/>
 <path d="M230,590 C240,560 330,555 440,575 C560,600 680,660 690,720 C690,740 660,745 600,735 C450,710 280,650 240,610"/>
 <path d="M290,640 C340,620 480,650 560,690 C600,710 640,730 650,745 M350,670 C400,670 500,700 560,740"/>
 <path class="ld" d="M770,805 L1205,885"/>
 
</g>
<!-- F27L: origin 390,1640 s=4.979 : 27 left -->
<g transform="translate(390,1640) scale(0.200843)">
 <path d="M660,60 C645,75 640,100 655,120 L690,145 L790,270 C850,310 990,340 1015,390 C1020,420 990,430 940,435 L780,435 C740,440 700,460 660,480 L515,560 C480,570 300,550 160,535 C100,530 40,560 35,600"/>
 <path d="M660,60 C700,60 800,85 1000,100 L1643,120"/>
 <path d="M655,115 C700,140 850,220 950,290 C990,330 990,380 980,410"/>
 <path d="M35,600 L115,880 C120,910 150,935 200,935 C250,930 280,920 300,910 L820,665 C900,640 1000,650 1100,690 C1200,740 1300,800 1400,860"/>
 <path d="M40,620 L120,870 C130,890 160,900 200,895 C250,890 290,870 310,865 L800,625 C880,600 1000,610 1100,650 C1200,700 1330,780 1420,850 C1440,870 1430,880 1420,880"/>
 <path d="M1330,825 C1350,860 1390,880 1425,880"/>
 <path d="M300,855 L505,575 M305,855 L720,610 C750,590 780,580 800,590 L825,605 M740,470 L750,560"/>
 <path d="M1400,890 C1350,930 1250,1000 1050,1140 C1000,1180 900,1200 800,1190 C700,1180 600,1130 430,1080 C380,1070 320,1080 310,1110 L305,1170"/>
 <path d="M305,1170 C310,1220 400,1300 600,1400 L800,1500 C850,1520 900,1530 950,1520 C1000,1510 1020,1470 1050,1420 C1080,1380 1150,1350 1200,1320 L1500,1130 C1560,1090 1600,1080 1643,1080"/>
 <path d="M310,1140 C330,1200 400,1270 600,1370 L790,1470 C840,1490 900,1500 950,1490 M1190,1290 L1490,1100 C1550,1070 1600,1060 1643,1065"/>
 <path d="M770,1450 L1400,1000 M800,1470 L1435,1015 C1400,1050 1300,1130 1180,1270 M1030,1190 L1075,1220 M1160,1270 L1175,1285"/>
 <path d="M1395,930 L1590,1040"/>
 <path d="M1360,740 C1380,720 1450,725 1520,755 C1570,780 1580,810 1550,820 C1500,825 1420,800 1370,770 C1355,760 1355,750 1360,740 Z"/>
 <path d="M1400,770 C1420,760 1470,765 1510,790"/>
 
 
 <path d="M1050,145 L1643,490"/>
</g>
<!-- F27: origin 380,1620 s=2.2819 : 27 right, 28 -->
<g transform="translate(380,1620) scale(0.438232)">
 <path d="M776,100 C900,108 950,118 1000,125 C1200,155 1400,250 1490,370 C1570,480 1605,620 1600,730 L1595,805 C1580,812 1550,812 1510,797 C1400,772 1250,730 1100,690 L1068,690 L1062,662 C950,640 850,600 790,560 L776,545"/>
 <path d="M1500,785 C1540,795 1570,795 1598,790"/>
 <path d="M776,275 L1570,735"/>
 <ellipse cx="890" cy="440" rx="135" ry="48" transform="rotate(11 890 440)"/>
 <path d="M765,405 C800,385 900,388 1000,425"/>
 <ellipse cx="840" cy="492" rx="48" ry="18" transform="rotate(12 840 492)"/>
 <ellipse cx="842" cy="496" rx="24" ry="9" transform="rotate(12 842 496)"/>
 

</g>
<!-- bracket 27 / 28 leader (native) -->
<path class="ld" d="M547.4,1651.9 L547.4,1483.6 L737,1483.6 L737,1496.3 M642,1468.7 L642,1483.6 M737,1532.6 L737,1615.7"/>
<!-- F26: origin 440,1960 s=3.5717 : 26, 29 -->
<g transform="translate(440,1960) scale(0.279979)">
 <path d="M255,75 C250,100 280,140 300,155 L320,150 L370,115 L440,240 C460,260 510,290 550,310"/>
 <path d="M255,75 C260,55 300,35 335,15 L470,45 L545,65 L590,155 L570,180 L580,200 L555,215 L495,215"/>
 <path d="M280,55 L340,62 L370,115 M370,115 L490,88 L545,65 M490,88 C500,100 550,185 565,210 M545,65 L540,78 L575,162"/>
 <ellipse cx="485" cy="140" rx="20" ry="28" transform="rotate(-30 485 140)"/>
 <path d="M495,215 C510,250 530,280 560,300 L620,320 L690,372 L680,398 L675,432 L850,510 L880,485 L980,470 L1000,480 L1110,760 C1115,780 1110,790 1100,800 L1090,820 L1110,850 L1180,800 L1260,780"/>
 <path d="M555,215 L620,235 C680,250 690,280 720,310 C800,360 900,390 1000,410 L1080,445 L1110,445 C1130,450 1140,470 1150,490 L1270,730 C1280,750 1270,770 1250,775 L1180,760 L1180,785"/>
 <ellipse cx="620" cy="262" rx="30" ry="12" transform="rotate(15 620 262)"/>
 <ellipse cx="815" cy="403" rx="33" ry="13" transform="rotate(15 815 403)"/>
 <path d="M1130,600 L1185,585 L1250,680 L1250,692 L1175,697 L1130,615 Z M1175,697 L1170,680 L1250,680"/>
 <ellipse cx="1195" cy="632" rx="20" ry="30" transform="rotate(-25 1195 632)"/>
 <path d="M432,738 L442,772 C462,782 510,782 522,772 L530,745 M472,748 L477,778"/>
 <path d="M420,715 C425,742 470,759 520,759 C545,757 555,744 553,728"/>
 <path d="M480,680 L520,530 C530,510 560,510 565,525 L525,690"/>
 <ellipse class="f" cx="487" cy="708" rx="68" ry="34" transform="rotate(14 487 708)"/>
 <path d="M514,548 q25,10 48,6 M508,572 q25,10 48,6 M502,596 q25,10 48,6 M496,620 q25,10 48,6"/>
 <path class="ld" d="M185,510 L480,615 M1440,350 L1175,520 M595,345 L545,490"/>
 
</g>
<!-- FW: origin 130,2050 s=11.736 : FWD arrow -->
<g transform="translate(130,2050) scale(0.085208)">
 <path d="M510,355 L605,410 L605,430 L1200,90 L1305,130 L1305,600 L605,990 L605,1140 L190,940 Z" style="stroke-width:3.6"/>
 <path d="M1270,155 L1270,580 M285,955 L565,445 M612,522 L1252,150" style="stroke-width:1.8"/>
 <path d="M580,440 L580,570" style="stroke-width:3.2"/>
</g>
<text transform="matrix(0.66,-0.366,0,1,180,2128)" style="font-weight:bold;font-size:37px;stroke-width:0.9px">FWD</text>
<text x="144" y="2190.3" textLength="213" lengthAdjust="spacingAndGlyphs" style="font-size:31px;stroke-width:0.2px">14BR300-K260</text>

<!-- F10R: origin 1440,800 s=13.692 : bolt 10R -->
<g transform="translate(1440,800) scale(0.073034)">
 <path d="M190,440 C140,440 90,500 80,570 C80,600 90,620 100,625 L730,975 M190,440 L810,790"/>
 <path d="M165,640 C160,590 190,520 240,495 M250,690 C245,640 270,570 330,545 M345,740 C340,690 370,620 420,595 M435,790 C430,740 460,670 510,645 M525,840 C520,790 550,720 600,695 M615,895 C610,845 640,775 690,750 M730,975 C720,920 750,840 810,795"/>
 <path d="M810,790 C850,750 900,740 940,750 L1110,830 M730,980 C720,1030 740,1080 780,1100 L910,1170"/>
 <ellipse cx="1010" cy="1000" rx="112" ry="185" transform="rotate(25 1010 1000)"/>
 <path d="M950,915 C980,870 1020,840 1040,835 M970,1100 C940,1060 950,990 990,950 C1020,930 1050,925 1070,930"/>
 <path class="ld" d="M970,0 L680,720"/>
</g>
<path class="ld" d="M1516.7,783.9 L1510.8,800 M1442,834 L1414.8,817.3"/>
<path class="ld" d="M760,1188.7 L809.6,1188.8"/>
<path class="ld" d="M945.7,1255.1 L911.2,1363.6 M908.7,1372.2 L906.1,1379.8 M903.1,1388.4 L877.7,1469.1"/>
<!-- explicit dash-dot lines (native) -->
<path class="ld" d="M920.9,380 L886.1,489.5 M884.1,496.6 L881,506.1 M879,513 L858.6,578.3"/>
<path class="ld" d="M729.8,1646.9 L695.7,1756.9 M693.7,1763.2 L690.5,1773.5 M688.6,1780.6 L684.7,1795.7"/>
<path class="ld" d="M828.7,1625.5 L793.1,1735.5 M790.7,1741.9 L787.5,1751.3 M785.9,1759.3 L774.1,1798"/>
<path class="ld" d="M652.7,1899.9 L636.2,1955.2 M634.2,1963 L631.3,1971.7 M628.9,1979.4 L613.4,2031.8"/>
<path d="M871,550.4 L1200.8,750 M1076.7,658.8 L1243,790"/>
<g>
 <path d="M724,1631 L724.5,1638 C728,1643 742,1646 748,1643 L750,1634"/>
 <path d="M720.5,1623 L720.8,1627.5 C724,1633 740,1637 752,1633 L753,1627"/>
 <ellipse cx="736.8" cy="1623.5" rx="16.3" ry="7.3" transform="rotate(15 736.8 1623.5)"/>
 <ellipse cx="737.5" cy="1622" rx="8.5" ry="3.6" transform="rotate(15 737.5 1622)"/>
</g>
<path class="ld" d="M383.4,1247.2 L381.4,1253.9 M380.2,1257.7 L378.2,1264.4 M377.1,1268.3 L375.0,1275.0 M373.9,1278.8 L371.9,1285.5 M370.7,1289.3 L368.7,1296.0 M367.5,1299.9 L365.5,1306.6 M364.4,1310.4 L362.3,1317.1 M361.2,1320.9 L359.2,1327.6 M358.0,1331.5 L356.0,1338.2 M354.8,1342.0 L352.8,1348.7 M351.7,1352.5 L349.6,1359.2 M348.5,1363.1 L346.5,1369.8 M345.3,1373.6 L343.3,1380.3 M342.1,1384.1 L340.1,1390.8 M339.0,1394.7 L336.9,1401.4 M335.8,1405.2 L333.8,1411.9 M332.6,1415.7 L330.6,1422.4 M329.4,1426.2 L327.4,1432.9 M326.3,1436.8 L325.3,1440.0"/>
<path d="M422.3,1271.5 C451.5,1256.9 480.7,1234.9 508.4,1204.3 L503.3,1202.1 M425.2,1281 C458.8,1268.5 488,1245.2 515.7,1213 L523,1214.5 M508.4,1204.3 L515.7,1213"/>
<!-- FLB: origin 290,1290 s=9.665 : damper lower body -->
<g transform="translate(290,1290) scale(0.103466)">
 <path d="M390,-70 L400,50 C420,120 440,180 440,210 C440,250 410,262 370,275 L330,385"/>
 <path d="M370,285 C400,330 550,400 800,460"/>
 <path d="M330,385 C320,440 400,490 520,540 C620,580 720,600 800,605 M340,425 C380,485 500,545 600,585 C680,612 760,625 800,625"/>
 <path d="M940,430 L1230,385 M1130,420 C1120,470 1110,530 1080,560 C1040,590 980,600 930,600 M930,615 C1000,615 1080,580 1100,540"/>
 <path d="M630,630 C640,670 690,690 740,690 C770,690 780,660 780,640"/>
 <path d="M440,545 L430,600"/>
 <path d="M350,620 C340,650 340,700 360,720 C450,790 650,830 850,850 M380,640 C400,690 500,740 650,780 C750,800 820,810 860,810 M350,620 C380,595 420,590 440,600"/>
 <path d="M330,775 C310,800 320,840 360,860 C450,920 650,960 800,980 M360,800 C380,850 500,900 650,940 C720,955 780,965 820,965"/>
 <path d="M330,780 L260,980 C260,1030 300,1070 380,1110 C480,1160 600,1185 720,1190"/>
 <path d="M380,1130 L375,1200 C380,1240 450,1260 520,1270 L570,1270 L600,1200"/>
 <path d="M840,780 C860,760 900,750 920,740 L960,790 C990,820 990,880 970,920 C940,960 880,960 860,950 L870,860"/>
 <path d="M910,960 L780,1300 M850,960 L720,1290"/>
 <path d="M460,1260 L440,1353 M520,1270 L500,1353 C520,1400 560,1400 600,1380"/>
</g>
<!-- FDC: origin 250,1220 s=7.468 : clamp & cable -->
<g transform="translate(250,1220) scale(0.133905)">
 <path d="M1040,460 C1080,380 1150,340 1220,345 C1260,350 1290,390 1300,440"/>
 <path d="M1130,410 C1150,380 1200,370 1240,390 C1280,410 1300,460 1290,500 L1180,520 M1140,420 C1170,430 1190,470 1185,500 M1230,380 L1290,500"/>
 <path d="M1150,430 C1070,470 1010,560 980,660 C960,760 930,900 920,1120 M1180,520 C1110,560 1070,650 1050,750 C1030,850 1010,950 1000,1100"/>
 <path d="M1150,280 C1170,230 1230,220 1280,250 C1310,270 1320,300 1320,320"/>
</g>
<!--PARTS-->
<!--ONEFIX-->
<g transform="matrix(1.2000000476837158,0,0,1,1081.199951171875,185.1999969482422)"><rect x="1.00" y="-4.27" width="5.40" height="5.80" fill="#fff" stroke="none"/><rect x="10.25" y="-4.27" width="5.60" height="5.80" fill="#fff" stroke="none"/></g>
<g transform="matrix(1.2000000476837158,0,0,1,1073.199951171875,281.20001220703125)"><rect x="1.00" y="-4.27" width="5.40" height="5.80" fill="#fff" stroke="none"/><rect x="10.25" y="-4.27" width="5.60" height="5.80" fill="#fff" stroke="none"/></g>
<g transform="matrix(1.2000000476837158,0,0,1,754.7999877929688,237.8000030517578)"><rect x="1.00" y="-4.27" width="5.40" height="5.80" fill="#fff" stroke="none"/><rect x="10.25" y="-4.27" width="5.60" height="5.80" fill="#fff" stroke="none"/></g>
<g transform="matrix(1.2000000476837158,0,0,1,697.2000122070312,325.29998779296875)"><rect x="1.00" y="-4.27" width="5.40" height="5.80" fill="#fff" stroke="none"/><rect x="10.25" y="-4.27" width="5.60" height="5.80" fill="#fff" stroke="none"/></g>
<g transform="matrix(1.2000000476837158,0,0,1,1092.199951171875,342.79998779296875)"><rect x="1.00" y="-4.27" width="5.40" height="5.80" fill="#fff" stroke="none"/><rect x="10.25" y="-4.27" width="5.60" height="5.80" fill="#fff" stroke="none"/></g>
<g transform="matrix(1.2000000476837158,0,0,1,1095.199951171875,437.79998779296875)"><rect x="1.00" y="-4.27" width="5.40" height="5.80" fill="#fff" stroke="none"/><rect x="10.25" y="-4.27" width="5.60" height="5.80" fill="#fff" stroke="none"/></g>
<g transform="matrix(1.2000000476837158,0,0,1,1095.199951171875,437.79998779296875)"><rect x="16.38" y="-4.27" width="5.40" height="5.80" fill="#fff" stroke="none"/><rect x="25.63" y="-4.27" width="5.60" height="5.80" fill="#fff" stroke="none"/></g>
<g transform="matrix(1.2000000476837158,0,0,1,1501.699951171875,772.5)"><rect x="1.00" y="-4.27" width="5.40" height="5.80" fill="#fff" stroke="none"/><rect x="10.25" y="-4.27" width="5.60" height="5.80" fill="#fff" stroke="none"/></g>
<g transform="matrix(1.2000000476837158,0,0,1,1126.699951171875,1268.800048828125)"><rect x="1.00" y="-4.27" width="5.40" height="5.80" fill="#fff" stroke="none"/><rect x="10.25" y="-4.27" width="5.60" height="5.80" fill="#fff" stroke="none"/></g>
<g transform="matrix(1.2000000476837158,0,0,1,478.3999938964844,1087.300048828125)"><rect x="1.00" y="-4.27" width="5.40" height="5.80" fill="#fff" stroke="none"/><rect x="10.25" y="-4.27" width="5.60" height="5.80" fill="#fff" stroke="none"/></g>
<g transform="matrix(1.2000000476837158,0,0,1,578.0999755859375,1045.0999755859375)"><rect x="1.00" y="-4.27" width="5.40" height="5.80" fill="#fff" stroke="none"/><rect x="10.25" y="-4.27" width="5.60" height="5.80" fill="#fff" stroke="none"/></g>
<g transform="matrix(1.2000000476837158,0,0,1,479.70001220703125,1442.800048828125)"><rect x="1.00" y="-4.27" width="5.40" height="5.80" fill="#fff" stroke="none"/><rect x="10.25" y="-4.27" width="5.60" height="5.80" fill="#fff" stroke="none"/></g>
<g transform="matrix(1.2000000476837158,0,0,1,133.3000030517578,1551.5)"><rect x="18.99" y="-4.27" width="5.40" height="5.80" fill="#fff" stroke="none"/><rect x="28.24" y="-4.27" width="5.60" height="5.80" fill="#fff" stroke="none"/></g>
<g transform="matrix(1.2000000476837158,0,0,1,810.5999755859375,1198.5999755859375)"><rect x="1.00" y="-4.27" width="5.40" height="5.80" fill="#fff" stroke="none"/><rect x="10.25" y="-4.27" width="5.60" height="5.80" fill="#fff" stroke="none"/></g>
<g transform="matrix(1,0,0,1,0,0)"><rect x="145.08" y="2186.13" width="5.85" height="6.29" fill="#fff" stroke="none"/><rect x="155.11" y="2186.13" width="6.07" height="6.29" fill="#fff" stroke="none"/></g>
<!--/ONEFIX-->
</svg>
</body></html>
